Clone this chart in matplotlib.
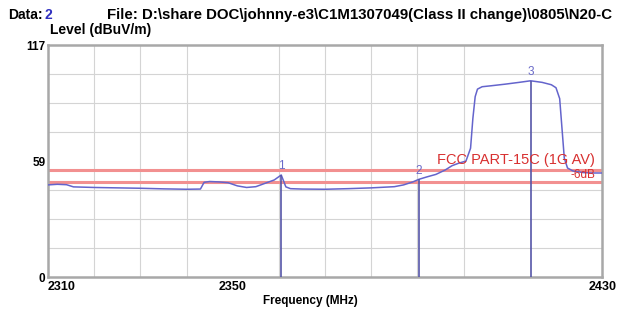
import matplotlib
matplotlib.use("Agg")
import matplotlib.pyplot as plt

# ---- data
freq = [2310, 2312, 2314, 2315.5, 2320, 2325, 2330, 2335, 2340, 2343,
        2343.8, 2345, 2347, 2349, 2351, 2353, 2355, 2357, 2359, 2360.5,
        2361.5, 2362.5, 2365, 2370, 2375, 2380, 2385, 2387, 2389, 2390.3,
        2392, 2394, 2396, 2397.5, 2399, 2400.5, 2401.5, 2402, 2402.5, 2403,
        2404, 2406, 2409, 2412, 2414.5, 2417, 2419, 2420, 2420.8, 2421.3,
        2421.8, 2422.5, 2423.7, 2426, 2428, 2430]
level = [46.5, 46.8, 46.6, 45.5, 45.2, 45.0, 44.8, 44.5, 44.3, 44.4,
         47.8, 48.2, 48.0, 47.6, 46.0, 45.2, 45.6, 47.3, 49.0, 51.5,
         45.5, 44.6, 44.4, 44.3, 44.6, 45.0, 45.6, 46.5, 48.0, 49.3,
         50.5, 51.8, 54.0, 56.2, 57.5, 58.5, 65.0, 80.0, 91.0, 94.8,
         96.0, 96.5, 97.3, 98.2, 99.0, 98.2, 97.0, 95.5, 90.0, 75.0,
         60.0, 55.0, 53.5, 52.7, 52.5, 52.5]

marker_freq = [2360.5, 2390.3, 2414.5]
marker_level = [51.5, 49.3, 99.0]
marker_names = ["1", "2", "3"]

limit_av = 54      # FCC PART-15C (1G AV)
limit_margin = 48  # -6dB

x_grid = [2310, 2320, 2330, 2340, 2350, 2360, 2370, 2380, 2390, 2400]
y_grid = [0, 14.625, 29.25, 43.875, 58.5, 73.125, 87.75, 102.375, 117]
x_ticks = [2310, 2350, 2430]
x_labels = ["2310", "2350", "2430"]
y_ticks = [0, 58.5, 117]
y_labels = ["0", "59", "117"]

FONT = ["Liberation Sans", "DejaVu Sans"]
plt.rcParams["font.family"] = FONT

fig = plt.figure(figsize=(6.24, 3.11), dpi=100)
ax = fig.add_axes([0.077, 0.109, 0.888, 0.746])

ax.set_xlim(2310, 2430)
ax.set_ylim(0, 117)

# grid on minor ticks, labels on major ticks
ax.set_xticks(x_grid, minor=True)
ax.set_yticks(y_grid, minor=True)
ax.grid(which="minor", color="#d4d4d4", linewidth=0.8)
ax.set_xticks(x_ticks)
ax.set_xticklabels(x_labels)
ax.set_yticks(y_ticks)
ax.set_yticklabels(y_labels)
ax.tick_params(which="both", length=0)
ax.tick_params(axis="x", labelsize=9, pad=3)
ax.tick_params(axis="y", labelsize=8.5, pad=2)
for lab in ax.get_xticklabels() + ax.get_yticklabels():
    lab.set_fontweight("bold")
xl = ax.get_xticklabels()
xl[0].set_horizontalalignment("left")
xl[-1].set_horizontalalignment("center")

for sp in ax.spines.values():
    sp.set_color("#a8a8a8")
    sp.set_linewidth(1.8)

# limit lines
ax.axhline(limit_av, color="#f29090", linewidth=2.2, zorder=2)
ax.axhline(limit_margin, color="#f29090", linewidth=2.2, zorder=2)

# trace
ax.plot(freq, level, color="#6464cc", linewidth=1.1, zorder=3)

# markers
for f, v, n in zip(marker_freq, marker_level, marker_names):
    ax.vlines(f, 0, v, color="#5656a8", linewidth=1.2, zorder=3)
    ax.annotate(n, (f, v), xytext=(0, 2), textcoords="offset points",
                ha="center", va="bottom", fontsize=8.5, color="#6a6ac8",
                zorder=4)

ax.text(2428.5, limit_av + 1.3, "FCC PART-15C (1G AV)", ha="right",
        va="bottom", fontsize=10.5, color="#d83030", zorder=5)
ax.text(2428.5, limit_margin + 0.5, "-6dB", ha="right", va="bottom",
        fontsize=8.5, color="#d83030", zorder=5)

ax.set_xlabel("Frequency (MHz)", fontsize=8.5, fontweight="bold", labelpad=4)
ax.xaxis.set_label_coords(0.473, -0.075)

fig.text(0.013, 0.952, "Data:", fontsize=10, fontweight="bold", va="center")
fig.text(0.072, 0.952, "2", fontsize=10, fontweight="bold", va="center",
         color="#3030c0")
fig.text(0.171, 0.952,
         "File: D:\\share DOC\\johnny-e3\\C1M1307049(Class II change)\\0805\\N20-C",
         fontsize=10.8, fontweight="bold", va="center")
fig.text(0.08, 0.903, "Level (dBuV/m)", fontsize=10, fontweight="bold",
         va="center")

fig.savefig("out.png", dpi=100)
